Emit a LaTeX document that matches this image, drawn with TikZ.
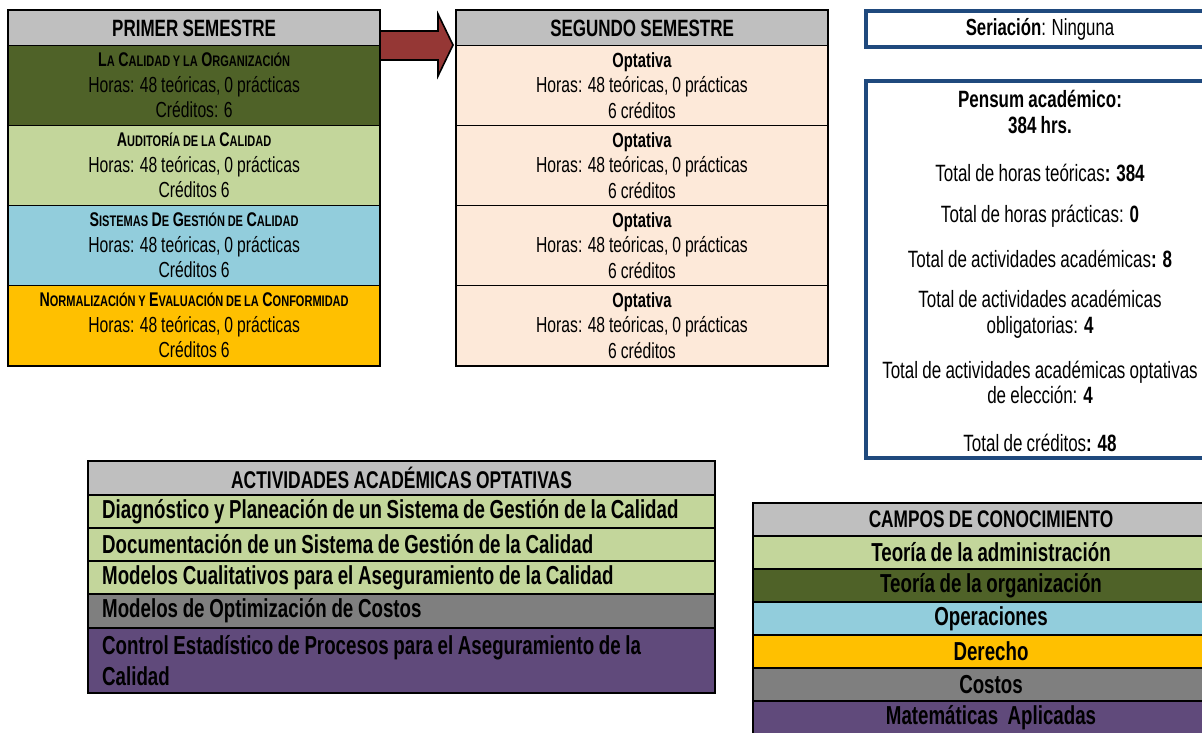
\documentclass[tikz,border=0pt]{standalone}
\usepackage{fontspec}
\setmainfont{Liberation Sans}[FakeStretch=0.72, WordSpace=0.9]
\definecolor{hdrgray}{HTML}{BFBFBF}
\definecolor{dkgreen}{HTML}{4F6228}
\definecolor{ltgreen}{HTML}{C3D69B}
\definecolor{ltblue}{HTML}{92CDDC}
\definecolor{gold}{HTML}{FFC000}
\definecolor{peach}{HTML}{FDE9D9}
\definecolor{arrowred}{HTML}{953735}
\definecolor{navy}{HTML}{1F497D}
\definecolor{midgray}{HTML}{7F7F7F}
\definecolor{purp}{HTML}{604A7B}
\newcommand\setfs[2]{\fontsize{#1}{#2}\selectfont}
\newcommand\ttl[1]{{\bfseries\setfs{19.8}{25.5}#1}}
\newcommand\sct[1]{{\setfs{15.3}{25.5}#1}}
\newcommand\opt{{\bfseries\setfs{20.5}{25.5}Optativa}}
\tikzset{
  cell/.style={draw=black, line width=1.2pt, inner sep=0pt, anchor=north west, align=center, font=\setfs{21.8}{25.5}},
  hdr/.style={cell, fill=hdrgray, font=\bfseries\setfs{23.6}{28}},
  outer/.style={draw=black, line width=2.4pt},
  blueline/.style={draw=navy, line width=3.5pt},
  pentxt/.style={align=center, inner sep=0pt, font=\setfs{23.6}{25.5}},
  actrow/.style={draw=black, line width=2pt, inner sep=0pt, anchor=north west, minimum width=627pt},
  acttxt/.style={anchor=west, inner sep=0pt, align=left, font=\bfseries\setfs{26}{31}},
  camrow/.style={draw=black, line width=2pt, inner sep=0pt, anchor=north west, minimum width=476pt, minimum height=33pt, align=center, font=\bfseries\setfs{26}{30}},
}
\begin{document}
\begin{tikzpicture}[x=1pt,y=-1pt]
\useasboundingbox (0,0) rectangle (1202,732);
\clip (0,0) rectangle (1202,732);
\fill[white] (0,0) rectangle (1202,732);

% arrow between semesters
\draw[fill=arrowred, draw=black, line width=1.6pt, line join=miter]
  (379,31) -- (438,31) -- (438,14) -- (453,45) -- (438,76) -- (438,60) -- (379,60) -- cycle;

% PRIMER SEMESTRE
\node[hdr, minimum width=371pt, minimum height=35pt] (p0) at (8,10) {PRIMER SEMESTRE};
\node[cell, fill=dkgreen, minimum width=371pt, minimum height=80pt] (p1) at (8,45)
  {\ttl{L\sct{A} C\sct{ALIDAD Y LA} O\sct{RGANIZACIÓN}}\\Horas: 48 teóricas, 0 prácticas\\Créditos: 6};
\node[cell, fill=ltgreen, minimum width=371pt, minimum height=80pt] (p2) at (8,125)
  {\ttl{A\sct{UDITORÍA DE LA} C\sct{ALIDAD}}\\Horas: 48 teóricas, 0 prácticas\\Créditos 6};
\node[cell, fill=ltblue, minimum width=371pt, minimum height=80pt] (p3) at (8,205)
  {\ttl{S\sct{ISTEMAS} D\sct{E} G\sct{ESTIÓN DE} C\sct{ALIDAD}}\\Horas: 48 teóricas, 0 prácticas\\Créditos 6};
\node[cell, fill=gold, minimum width=371pt, minimum height=80pt] (p4) at (8,285)
  {\ttl{N\sct{ORMALIZACIÓN Y} E\sct{VALUACIÓN DE LA} C\sct{ONFORMIDAD}}\\Horas: 48 teóricas, 0 prácticas\\Créditos 6};
\draw[outer] (p0.north west) rectangle (p4.south east);

% SEGUNDO SEMESTRE
\node[hdr, minimum width=371pt, minimum height=35pt] (s0) at (456,10) {SEGUNDO SEMESTRE};
\node[cell, fill=peach, line width=1pt, minimum width=371pt, minimum height=80pt] (s1) at (456,45)
  {\opt\\Horas: 48 teóricas, 0 prácticas\\6 créditos};
\node[cell, fill=peach, line width=1pt, minimum width=371pt, minimum height=80pt] (s2) at (456,125)
  {\opt\\Horas: 48 teóricas, 0 prácticas\\6 créditos};
\node[cell, fill=peach, line width=1pt, minimum width=371pt, minimum height=80pt] (s3) at (456,205)
  {\opt\\Horas: 48 teóricas, 0 prácticas\\6 créditos};
\node[cell, fill=peach, line width=1pt, minimum width=371pt, minimum height=80pt] (s4) at (456,285)
  {\opt\\Horas: 48 teóricas, 0 prácticas\\6 créditos};
\draw[outer, line width=2pt] (s0.north west) rectangle (s4.south east);

% Seriacion (right side runs off the page)
\draw[blueline] (1230,11) -- (866,11) -- (866,47) -- (1230,47);
\node[inner sep=0pt, font=\setfs{23.3}{25.5}] (ser) at (1040,29.5) {\textbf{Seriación}: Ninguna};

% Pensum
\draw[blueline] (1230,81) -- (866,81) -- (866,458) -- (1230,458);
\node[pentxt] (pn1) at (1040,112) {\textbf{Pensum académico:}\\\textbf{384 hrs.}};
\node[pentxt] (pn2) at (1040,173) {Total de horas teóricas\textbf{: 384}};
\node[pentxt] (pn3) at (1040,216) {Total de horas prácticas: \textbf{0}};
\node[pentxt] (pn4) at (1040,259) {Total de actividades académicas\textbf{: 8}};
\node[pentxt] (pn5) at (1040,314.5) {Total de actividades académicas\\obligatorias: \textbf{4}};
\node[pentxt] (pn6) at (1040,382.5) {Total de actividades académicas optativas\\de elección: \textbf{4}};
\node[pentxt] (pn7) at (1040,443) {Total de créditos\textbf{: 48}};

% ACTIVIDADES ACADEMICAS OPTATIVAS
\node[cell, fill=hdrgray, line width=2pt, minimum width=627pt, minimum height=34pt, font=\bfseries\setfs{24.2}{28}] (a0) at (87,460)
  {ACTIVIDADES ACADÉMICAS OPTATIVAS};
\node[actrow, fill=ltgreen, minimum height=33pt] (a1) at (87,494) {};
\node[actrow, fill=ltgreen, minimum height=33pt] (a2) at (87,527) {};
\node[actrow, fill=ltgreen, minimum height=33pt] (a3) at (87,560) {};
\node[actrow, fill=midgray, minimum height=34pt] (a4) at (87,593) {};
\node[actrow, fill=purp, minimum height=65pt] (a5) at (87,627) {};
\node[acttxt] (t1) at ([xshift=15pt]a1.west) {Diagnóstico y Planeación de un Sistema de Gestión de la Calidad};
\node[acttxt] (t2) at ([xshift=15pt]a2.west) {Documentación de un Sistema de Gestión de la Calidad};
\node[acttxt] (t3) at ([xshift=15pt]a3.west) {Modelos Cualitativos para el Aseguramiento de la Calidad};
\node[acttxt] (t4) at ([xshift=15pt]a4.west) {Modelos de Optimización de Costos};
\node[acttxt] (t5) at ([xshift=15pt]a5.west) {Control Estadístico de Procesos para el Aseguramiento de la\\Calidad};

% CAMPOS DE CONOCIMIENTO
\node[camrow, fill=hdrgray, font=\bfseries\setfs{24}{28}] (c0) at (752,502) {CAMPOS DE CONOCIMIENTO};
\node[camrow, fill=ltgreen] (c1) at (752,535) {Teoría de la administración};
\node[camrow, fill=dkgreen] (c2) at (752,568) {Teoría de la organización};
\node[camrow, fill=ltblue] (c3) at (752,601) {Operaciones};
\node[camrow, fill=gold] (c4) at (752,634) {Derecho};
\node[camrow, fill=midgray] (c5) at (752,667) {Costos};
\node[camrow, fill=purp] (c6) at (752,700) {Matemáticas\ \ Aplicadas};
\end{tikzpicture}
\end{document}
